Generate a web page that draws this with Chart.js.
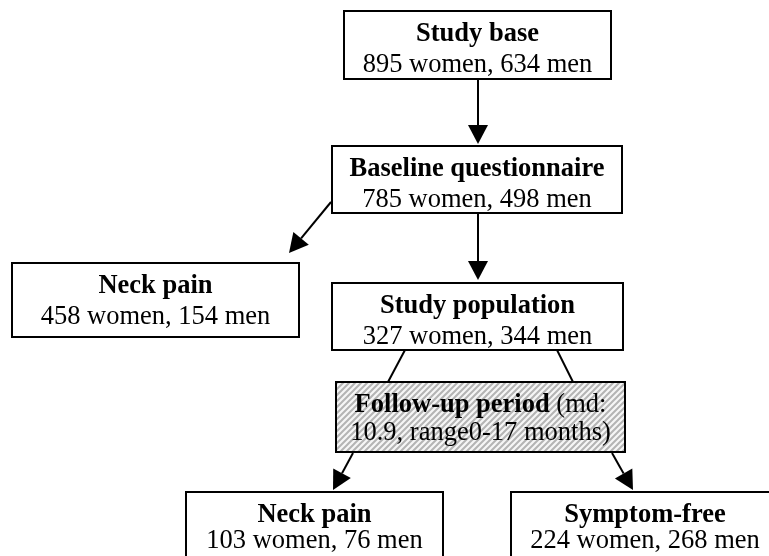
<!DOCTYPE html>
<html>
<head>
<meta charset="utf-8">
<script src="https://cdn.jsdelivr.net/npm/chart.js@4"></script>
<style>
  body { margin: 0; background: #fff; }
  #wrap { width: 769px; height: 556px; }
</style>
</head>
<body>
<div id="wrap"><canvas id="flow"></canvas></div>
<script>
// flowchart content
const boxTitles = ['Study base', 'Baseline questionnaire', 'Neck pain', 'Study population', 'Follow-up period', 'Neck pain', 'Symptom-free'];
const women = [895, 785, 458, 327, null, 103, 224];
const men = [634, 498, 154, 344, null, 76, 268];
const followMedian = 10.9;
const followRange = [0, 17];

// layout in chart units (x0, x1, y0, y1)
const boxPos = [
    [344, 611, 11, 79],
    [332, 622, 146, 213],
    [12, 299, 263, 337],
    [332, 623, 283, 350],
    [336, 625, 382, 452],
    [186, 443, 492, 620],
    [511, 779, 492, 620]
];
// connectors: from, to, arrow head?
const links = [
    [478, 80, 478, 144, true],
    [478, 214, 478, 280, true],
    [331, 202, 289, 253, true],
    [405, 350, 388, 382, false],
    [557, 350, 573, 382, false],
    [353, 453, 333, 490, true],
    [612, 453, 633, 490, true]
];

const FONT = '"Liberation Serif", "Times New Roman", serif';
const SIZE = 26.5;

const hatch = (ctx) => {
    const c = document.createElement('canvas');
    c.width = 6; c.height = 6;
    const g = c.getContext('2d');
    g.fillStyle = '#f6f6f6';
    g.fillRect(0, 0, 6, 6);
    g.strokeStyle = '#b4b4b4';
    g.lineWidth = 2;
    g.beginPath();
    g.moveTo(-1, 7); g.lineTo(7, -1);
    g.moveTo(-4, 4); g.lineTo(4, -4);
    g.moveTo(2, 10); g.lineTo(10, 2);
    g.stroke();
    return ctx.createPattern(c, 'repeat');
}

const flowPlugin = {
    id: 'flow',
    afterDraw(chart) {
        const ctx = chart.ctx;
        const sx = chart.scales.x, sy = chart.scales.y;
        const px = v => sx.getPixelForValue(v);
        const py = v => sy.getPixelForValue(v);
        ctx.save();

        // connectors
        ctx.strokeStyle = '#000';
        ctx.fillStyle = '#000';
        ctx.lineWidth = 2;
        links.forEach(([x0, y0, x1, y1, head]) => {
            const ax = px(x0), ay = py(y0), bx = px(x1), by = py(y1);
            const ang = Math.atan2(by - ay, bx - ax);
            const hl = head ? 19 : 0;
            ctx.beginPath();
            ctx.moveTo(ax, ay);
            ctx.lineTo(bx - Math.cos(ang) * hl, by - Math.sin(ang) * hl);
            ctx.stroke();
            if (head) {
                const cx = bx - Math.cos(ang) * hl, cy = by - Math.sin(ang) * hl;
                ctx.beginPath();
                ctx.moveTo(bx, by);
                ctx.lineTo(cx + Math.sin(ang) * 10, cy - Math.cos(ang) * 10);
                ctx.lineTo(cx - Math.sin(ang) * 10, cy + Math.cos(ang) * 10);
                ctx.closePath();
                ctx.fill();
            }
        });

        // boxes
        boxTitles.forEach((title, i) => {
            const [x0, x1, y0, y1] = boxPos[i];
            const l = px(x0), r = px(x1), t = py(y0), b = py(y1);
            ctx.fillStyle = i === 4 ? hatch(ctx) : '#fff';
            ctx.fillRect(l, t, r - l, b - t);
            ctx.strokeStyle = '#000';
            ctx.lineWidth = 2;
            ctx.strokeRect(l, t, r - l, b - t);

            const cx = (l + r) / 2;
            ctx.fillStyle = '#000';
            ctx.textBaseline = 'alphabetic';
            if (i === 4) {
                const extra = ' (md:';
                ctx.font = 'bold ' + SIZE + 'px ' + FONT;
                const w1 = ctx.measureText(title).width;
                ctx.font = SIZE + 'px ' + FONT;
                const w2 = ctx.measureText(extra).width;
                const start = cx - (w1 + w2) / 2;
                ctx.textAlign = 'left';
                ctx.font = 'bold ' + SIZE + 'px ' + FONT;
                ctx.fillText(title, start, t + 30);
                ctx.font = SIZE + 'px ' + FONT;
                ctx.fillText(extra, start + w1, t + 30);
                ctx.textAlign = 'center';
                ctx.fillText(followMedian + ', range' + followRange[0] + '-' + followRange[1] + ' months)', cx, t + 58);
            } else {
                ctx.textAlign = 'center';
                ctx.font = 'bold ' + SIZE + 'px ' + FONT;
                ctx.fillText(title, cx, t + 30);
                ctx.font = SIZE + 'px ' + FONT;
                ctx.fillText(women[i] + ' women, ' + men[i] + ' men', cx, t + (i >= 5 ? 56 : 61));
            }
        });
        ctx.restore();
    }
};

new Chart(document.getElementById('flow'), {
    type: 'scatter',
    data: {
        datasets: [{
            data: boxPos.map(p => ({ x: (p[0] + p[1]) / 2, y: (p[2] + p[3]) / 2 })),
            pointRadius: 0
        }]
    },
    options: {
        responsive: true,
        maintainAspectRatio: false,
        animation: false,
        layout: { padding: 0 },
        plugins: { legend: { display: false }, tooltip: { enabled: false } },
        scales: {
            x: { type: 'linear', min: 0, max: 769, display: false },
            y: { type: 'linear', min: 0, max: 556, reverse: true, display: false }
        }
    },
    plugins: [flowPlugin]
});
</script>
</body>
</html>
